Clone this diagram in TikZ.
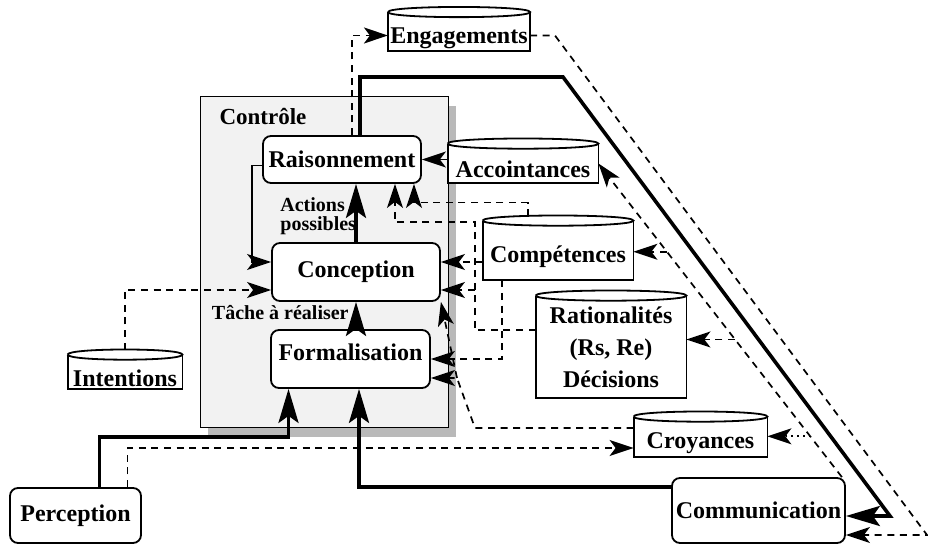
\documentclass[tikz,border=0pt]{standalone}
\usepackage{fontspec}
\setmainfont{Liberation Serif}
\usetikzlibrary{arrows.meta,calc,shadows}
\tikzset{
  box/.style={draw, line width=.9pt, rounded corners=4pt, fill=white, inner sep=1pt, font=\bfseries\fontsize{12}{14}\selectfont},
  store/.style={fill=white, inner sep=1pt, align=center, font=\bfseries\fontsize{12}{16}\selectfont, execute at begin node=\rule{0pt}{1.2em}},
  lab/.style={inner sep=0pt, align=left, font=\bfseries\fontsize{10}{9.5}\selectfont},
  flow/.style={line width=1.8pt, -{Stealth[length=17pt,width=10pt,inset=3.5pt]}},
  dflow/.style={line width=.85pt, dash pattern=on 3.5pt off 2.8pt, -{Stealth[length=12pt,width=8pt,inset=3pt]}},
  tflow/.style={line width=.85pt, -{Stealth[length=12pt,width=8pt,inset=3pt]}},
}
\begin{document}
\begin{tikzpicture}[x=0.5pt,y=-0.5pt]
\useasboundingbox (0,0) rectangle (928,545);
\node[draw, line width=.5pt, fill=gray!10, minimum width=124pt, minimum height=165.5pt,
  drop shadow={shadow xshift=4pt, shadow yshift=-4.5pt, fill=gray!55, opacity=1}] (ctrl) at (324,262.5) {};
\node[lab, font=\bfseries\fontsize{11.5}{14}\selectfont] (ctrltitle) at (263,117) {Contrôle};

\node[box, minimum width=79pt, minimum height=23.5pt] (rais) at (342,159.5) {Raisonnement};
\node[box, minimum width=84pt, minimum height=29pt] (conc) at (356,272) {Conception};
\node[box, minimum width=79.5pt, minimum height=29pt, text depth=.64em] (form) at (350.5,359) {Formalisation};
\node[box, minimum width=65.5pt, minimum height=27.5pt] (perc) at (75.5,515.5) {Perception};
\node[box, minimum width=86.5pt, minimum height=32.5pt] (comm) at (758.5,510.5) {Communication};

\node[store, minimum width=69pt, minimum height=18.5pt] (eng) at (459,31.5) {Engagements};
\node[store, minimum width=75pt, minimum height=19.5pt] (acc) at (523,163.5) {Accointances};
\node[store, minimum width=75pt, minimum height=29.5pt] (comp) at (558,250.5) {Compétences};
\node[store, minimum width=75pt, minimum height=51pt] (rat) at (611,347) {Rationalités\\(Rs, Re)\\Décisions};
\node[store, minimum width=66.5pt, minimum height=20pt] (croy) at (700.5,437) {Croyances};
\node[store, minimum width=57pt, minimum height=17pt] (int) at (125,372) {Intentions};
\foreach \n in {eng,acc,comp,rat,croy,int}{
  \draw[line width=.9pt] (\n.north west) -- (\n.south west) -- (\n.south east) -- (\n.north east);
  \draw[line width=.9pt, fill=white] (\n.north west) .. controls +(0pt,3.4pt) and +(0pt,3.4pt) .. (\n.north east)
    .. controls +(0pt,-3.4pt) and +(0pt,-3.4pt) .. (\n.north west);
}

\node[lab, anchor=west] (actions) at (280,216) {Actions\\possibles};
\node[lab, anchor=east] (tache) at (349,313) {Tâche à réaliser};

\draw[flow] (conc.north) -- (conc.north |- rais.south);
\draw[flow] (form.north -| conc.south) -- (conc.south);
\draw[flow] ([xshift=12pt]perc.north) -- ++(0,-50) -| ([xshift=-31pt]form.south);
\draw[flow] ([yshift=11.75pt]comm.west) -| ([xshift=4.25pt]form.south);
\draw[flow] ([xshift=9pt]rais.north) |- (563,77) -- (890,516) -- ([yshift=-2.75pt]comm.east);

\draw[tflow] ([yshift=-3pt]rais.west) -- ++(-10,0) |- ([yshift=5pt]conc.west);
\draw[tflow] (acc.west |- rais.east) -- (rais.east);

\draw[dflow] ([yshift=2.5pt]int.north) |- ([yshift=-9pt]conc.west);
\draw[dflow] ([xshift=5pt]rais.north) |- ([yshift=-2pt]eng.west);
\draw[dflow] ([yshift=-2pt]eng.east) -- (555,35.5) -- (927,535) -- ([yshift=-12.25pt]comm.east);
\draw[dflow] ([xshift=-15pt,yshift=2.5pt]comp.north) -- ++(0,-13) -| ([xshift=36pt]rais.south);
\draw[dflow] (comp.west) ++(0,11.5) -- ([yshift=5pt]conc.east);
\draw[dflow] ([xshift=-28pt]comp.south) |- (form.east);
\draw[dflow] ([yshift=8.5pt]rat.west) -| (475,222) -| ([xshift=26.5pt]rais.south);
\coordinate (ratfork) at (475,290);
\draw[dflow] (ratfork) -- ([yshift=-9pt]conc.east);
\draw[dflow] ([yshift=4.5pt]croy.west) -- (475,428) -- (457,378) -- ([yshift=-9.5pt]form.east);
\coordinate (croyfork) at (457,378);
\draw[dflow] (croyfork) -- (conc.south east);
\draw[dflow] ([xshift=26pt]perc.north) |- ([yshift=-5.5pt]croy.west);

\draw[dflow] ([xshift=-2pt]comm.north east) -- (acc.east);
\path ([xshift=-2pt]comm.north east) -- (acc.east)
  coordinate[pos=.7186] (tocomp) coordinate[pos=.4388] (torat) coordinate[pos=.13] (tocroy);
\draw[dflow] (tocomp) -- (tocomp -| comp.east);
\draw[dflow] (torat) -- (torat -| rat.east);
\draw[tflow, dotted] (tocroy) -- (tocroy -| croy.east);
\end{tikzpicture}
\end{document}
